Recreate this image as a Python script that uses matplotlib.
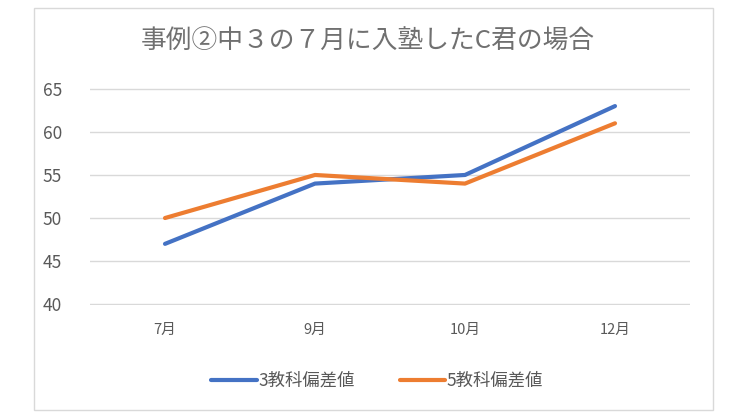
import matplotlib
matplotlib.use("Agg")
import matplotlib.pyplot as plt
from matplotlib.patches import Rectangle

plt.rcParams['font.family'] = ['Noto Sans CJK JP', 'DejaVu Sans']

# data
months = ['7月', '9月', '10月', '12月']
score3 = [47, 54, 55, 63]
score5 = [50, 55, 54, 61]
yticks = [40, 45, 50, 55, 60, 65]
title = '事例②中３の７月に入塾したC君の場合'

fig = plt.figure(figsize=(7.4, 4.16), dpi=100)
fig.patches.append(Rectangle((34 / 740, 6 / 416), 679 / 740, 402 / 416,
                             transform=fig.transFigure, fill=False,
                             edgecolor='#d9d9d9', linewidth=1))

ax = fig.add_axes([90 / 740, 1 - 305 / 416, 600 / 740, 217 / 416])
x = range(len(months))
ax.plot(x, score3, color='#4472C4', linewidth=3, label='3教科偏差値', solid_capstyle='round')
ax.plot(x, score5, color='#ED7D31', linewidth=3, label='5教科偏差値', solid_capstyle='round')

ax.set_xlim(-0.5, len(months) - 0.5)
ax.set_ylim(39.9, 65.1)
ax.set_yticks(yticks)
ax.set_xticks(list(x))
ax.set_xticklabels(months)
ax.grid(axis='y', color='#d9d9d9', linewidth=1)
ax.set_axisbelow(True)
for s in ax.spines.values():
    s.set_visible(False)
ax.tick_params(axis='both', length=0, colors='#595959')
ax.tick_params(axis='y', labelsize=12.5, pad=20)
ax.tick_params(axis='x', labelsize=10.5, pad=13)

fig.text(0.497, 1 - 42 / 416, title, ha='center', va='center', fontsize=18.5, color='#707070')
fig.legend(loc='center', bbox_to_anchor=(0.51, 1 - 381 / 416), ncol=2, frameon=False,
           fontsize=12.5, labelcolor='#595959', handlelength=2.6, handletextpad=0.1,
           columnspacing=2.6)

fig.savefig('out.png', dpi=100)
